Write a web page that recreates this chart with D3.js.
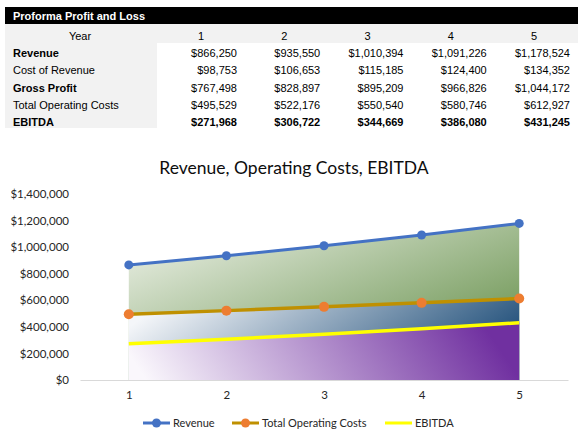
<!DOCTYPE html>
<html>
<head>
<meta charset="utf-8">
<script src="https://cdn.jsdelivr.net/npm/d3@7"></script>
<style>
  body { margin: 0; background: #fff; }
  svg { display: block; }
  .tbl { font-family: "Liberation Sans", Arial, sans-serif; font-size: 11px; }
  .chartText { font-family: Lato, "Open Sans", sans-serif; }
</style>
</head>
<body>
<div id="chart"></div>
<script>
// table + chart data
var years = [1, 2, 3, 4, 5];
var rowLabels = ["Revenue", "Cost of Revenue", "Gross Profit", "Total Operating Costs", "EBITDA"];
var boldLabels = [true, false, true, false, true];
var boldValues = [false, false, false, false, true];
var revenue = [866250, 935550, 1010394, 1091226, 1178524];
var costOfRevenue = [98753, 106653, 115185, 124400, 134352];
var grossProfit = [767498, 828897, 895209, 966826, 1044172];
var totalOpCosts = [495529, 522176, 550540, 580746, 612927];
var ebitda = [271968, 306722, 344669, 386080, 431245];
var yTicks = [0, 200000, 400000, 600000, 800000, 1000000, 1200000, 1400000];
var seriesNames = ["Revenue", "Total Operating Costs", "EBITDA"];

var svgWidth = 586;
var svgHeight = 439;

var svg = d3.select("#chart")
    .append("svg")
    .attr("width", svgWidth)
    .attr("height", svgHeight);

var fmt = d3.format("$,");

// ---- the P&L table ----
var tbl = svg.append("g").attr("class", "tbl");

tbl.append("rect").attr("x", 5).attr("y", 7).attr("width", 573).attr("height", 17).attr("fill", "#000");
tbl.append("text").attr("x", 13).attr("y", 20)
    .attr("fill", "#fff").attr("font-weight", "bold")
    .text("Proforma Profit and Loss");

tbl.append("rect").attr("x", 5).attr("y", 24).attr("width", 573).attr("height", 104).attr("fill", "#f2f2f2");
tbl.append("rect").attr("x", 157).attr("y", 43).attr("width", 421).attr("height", 85).attr("fill", "#fff");

var colX = d3.scalePoint().domain(years).range([201, 534]);
var rowY = d3.scalePoint().domain(d3.range(rowLabels.length + 1)).range([40, 126]);

tbl.append("text").attr("x", 80).attr("y", rowY(0)).attr("text-anchor", "middle").text("Year");
tbl.selectAll(".yr").data(years).enter().append("text")
    .attr("x", d => colX(d)).attr("y", rowY(0))
    .attr("text-anchor", "middle")
    .text(d => d);

var tableData = [revenue, costOfRevenue, grossProfit, totalOpCosts, ebitda];

rowLabels.forEach(function(label, i) {
    var y = rowY(i + 1);
    tbl.append("text").attr("x", 13).attr("y", y)
        .attr("font-weight", boldLabels[i] ? "bold" : "normal").text(label);
    tbl.selectAll(null).data(tableData[i]).enter().append("text")
        .attr("x", (d, j) => colX(years[j]) + 36)
        .attr("y", y)
        .attr("text-anchor", "end")
        .attr("font-weight", boldValues[i] ? "bold" : "normal")
        .text(d => fmt(d));
});

// ---- the chart ----
var xScale = d3.scalePoint().domain(years).range([80, 568]).padding(0.5);
var yScale = d3.scaleLinear().domain([0, 1400000]).range([380, 194]);

// gradients for the areas
var defs = svg.append("defs");
function grad(id, c0, c1, x1, y1, x2, y2, end) {
    var g = defs.append("linearGradient").attr("id", id)
        .attr("x1", x1).attr("y1", y1).attr("x2", x2).attr("y2", y2);
    g.append("stop").attr("offset", "0").attr("stop-color", c0);
    g.append("stop").attr("offset", end).attr("stop-color", c1);
}
grad("gGreen", "#f2f5ee", "#558437", 0, 0, 1, 1, 1);
grad("gBlue", "#f4f6f9", "#1f4e79", 0, 0.35, 1, 0.65, 0.95);
grad("gPurple", "#faf7fc", "#7030a0", 0, 0.55, 1, 0.45, 0.95);

var area = function(vals) {
    return d3.area()
        .x((d, i) => xScale(years[i]))
        .y0(yScale(0))
        .y1(d => yScale(d))(vals);
};
var line = d3.line().x((d, i) => xScale(years[i])).y(d => yScale(d));

var plot = svg.append("g");
plot.append("path").attr("d", area(revenue)).attr("fill", "url(#gGreen)");
plot.append("path").attr("d", area(totalOpCosts)).attr("fill", "url(#gBlue)");
plot.append("path").attr("d", area(ebitda)).attr("fill", "url(#gPurple)");

// x axis
var xAxis = svg.append("g")
    .attr("transform", `translate(0, ${yScale(0)})`)
    .call(d3.axisBottom(xScale).tickSize(0).tickPadding(11));
xAxis.select(".domain").attr("stroke", "#d9d9d9").attr("stroke-width", 1.2);
xAxis.selectAll("text").attr("class", "chartText").attr("font-size", 11.5).attr("fill", "#262626");

// y axis (labels only)
var yAxis = svg.append("g")
    .attr("transform", "translate(69, 0)")
    .call(d3.axisLeft(yScale).tickValues(yTicks).tickSize(0).tickPadding(0).tickFormat(fmt));
yAxis.select(".domain").remove();
yAxis.selectAll("text").attr("class", "chartText").attr("font-size", 11.5).attr("fill", "#262626");

// lines
plot.append("path").attr("d", line(revenue)).attr("fill", "none")
    .attr("stroke", "#4472c4").attr("stroke-width", 3);
plot.append("path").attr("d", line(totalOpCosts)).attr("fill", "none")
    .attr("stroke", "#bf9000").attr("stroke-width", 3.5);
plot.append("path").attr("d", line(ebitda)).attr("fill", "none")
    .attr("stroke", "#ffff00").attr("stroke-width", 3.5);

plot.selectAll(".revDot").data(revenue).enter().append("circle")
    .attr("cx", (d, i) => xScale(years[i])).attr("cy", d => yScale(d))
    .attr("r", 4.5).attr("fill", "#4472c4");
plot.selectAll(".tocDot").data(totalOpCosts).enter().append("circle")
    .attr("cx", (d, i) => xScale(years[i])).attr("cy", d => yScale(d))
    .attr("r", 5).attr("fill", "#ed7d31");

// title
svg.append("text")
    .attr("class", "chartText")
    .attr("x", 294).attr("y", 174)
    .attr("text-anchor", "middle")
    .attr("font-size", 17.5)
    .attr("fill", "#0d0d0d")
    .text("Revenue, Operating Costs, EBITDA");

// legend
var legX = [143, 232, 385];
var legStroke = ["#4472c4", "#bf9000", "#ffff00"];
var legDot = ["#4472c4", "#ed7d31", null];
var leg = svg.append("g").attr("transform", "translate(0, 423)");
seriesNames.forEach(function(name, i) {
    leg.append("line").attr("x1", legX[i]).attr("x2", legX[i] + 27)
        .attr("stroke", legStroke[i]).attr("stroke-width", 3);
    if (legDot[i]) {
        leg.append("circle").attr("cx", legX[i] + 13.5).attr("r", 4.5).attr("fill", legDot[i]);
    }
    leg.append("text").attr("class", "chartText")
        .attr("x", legX[i] + 30).attr("y", 4)
        .attr("font-size", 11).attr("fill", "#262626")
        .text(name);
});
</script>
</body>
</html>
